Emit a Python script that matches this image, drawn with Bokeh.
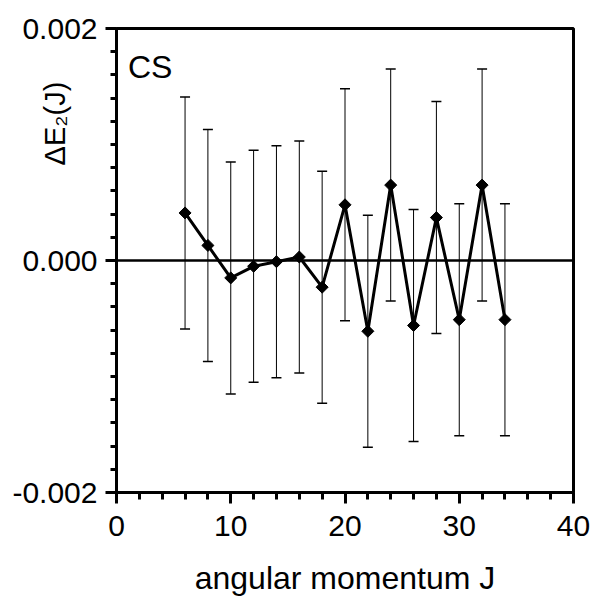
import numpy as np
from bokeh.plotting import figure
from bokeh.models import (ColumnDataSource, Whisker, TeeHead, Span, Label,
                          FixedTicker, NumeralTickFormatter)
from bokeh.embed import file_html
from bokeh.resources import INLINE

# data
J = [6, 8, 10, 12, 14, 16, 18, 20, 22, 24, 26, 28, 30, 32, 34]
dE2 = [0.00041, 0.00013, -0.00015, -0.00005, -0.00001, 0.00003, -0.00023,
       0.00048, -0.00061, 0.00065, -0.00056, 0.00037, -0.00051, 0.00065, -0.00051]
err = [0.00100, 0.00100, 0.00100, 0.00100, 0.00100, 0.00100, 0.00100,
       0.00100, 0.00100, 0.00100, 0.00100, 0.00100, 0.00100, 0.00100, 0.00100]

x_major = [0, 10, 20, 30, 40]
x_minor = [0, 2, 4, 6, 8, 10, 12, 14, 16, 18, 20, 22, 24, 26, 28, 30, 32, 34, 36, 38, 40]
y_major = [-0.002, 0.0, 0.002]
y_minor = [-0.002, -0.0018, -0.0016, -0.0014, -0.0012, -0.001, -0.0008, -0.0006,
           -0.0004, -0.0002, 0.0, 0.0002, 0.0004, 0.0006, 0.0008, 0.001, 0.0012,
           0.0014, 0.0016, 0.0018, 0.002]

FONT = "Liberation Sans"

src = ColumnDataSource(dict(
    J=J, dE2=dE2,
    upper=[v + e for v, e in zip(dE2, err)],
    lower=[v - e for v, e in zip(dE2, err)],
))

p = figure(width=592, height=598, x_range=(0, 40), y_range=(-0.002, 0.002),
           output_backend="svg", toolbar_location=None,
           min_border_left=116, min_border_right=19, min_border_top=28,
           min_border_bottom=106)
p.grid.visible = False
p.outline_line_color = "black"
p.outline_line_width = 3
p.background_fill_color = "white"
p.border_fill_color = "white"

# axes
p.xaxis.ticker = FixedTicker(ticks=x_major, minor_ticks=x_minor)
p.yaxis.ticker = FixedTicker(ticks=y_major, minor_ticks=y_minor)
p.yaxis.formatter = NumeralTickFormatter(format="0.000")
for ax in (p.xaxis[0], p.yaxis[0]):
    ax.axis_line_width = 3
    ax.axis_line_color = "black"
    ax.major_tick_line_width = 3
    ax.minor_tick_line_width = 3
    ax.major_tick_in = 0
    ax.minor_tick_in = 0
    ax.major_tick_out = 11
    ax.major_label_text_font = FONT
    ax.major_label_text_font_size = "30px"
    ax.major_label_text_color = "black"
p.xaxis.minor_tick_out = 7
p.yaxis.minor_tick_out = 6
p.xaxis.major_label_standoff = 12
p.yaxis.major_label_standoff = 8

p.xaxis.axis_label = "angular momentum J"
p.xaxis.axis_label_text_font = FONT
p.xaxis.axis_label_text_font_size = "32px"
p.xaxis.axis_label_text_font_style = "normal"
p.xaxis.axis_label_text_color = "black"
p.xaxis.axis_label_standoff = 21

# y axis label, pulled into the tick-label column, shifted up with leading no-break spaces
NB = "\u00a0"
p.yaxis.axis_label = NB * 34 + "ΔE₂(J)"
p.yaxis.axis_label_align = "center"
p.yaxis.axis_label_standoff = -62
p.yaxis.axis_label_text_font = FONT
p.yaxis.axis_label_text_font_size = "29px"
p.yaxis.axis_label_text_font_style = "normal"
p.yaxis.axis_label_text_color = "black"

# zero line
p.add_layout(Span(location=0, dimension="width", line_color="black", line_width=2.5))

# error bars
wh = Whisker(source=src, base="J", upper="upper", lower="lower",
             line_color="black", line_width=1,
             upper_head=TeeHead(size=10, line_width=1.5, line_color="black"),
             lower_head=TeeHead(size=10, line_width=1.5, line_color="black"))
p.add_layout(wh)

# data line and diamonds
p.line("J", "dE2", source=src, line_color="black", line_width=3)
p.scatter("J", "dE2", source=src, marker="square", angle=np.pi / 4, size=8.5,
          fill_color="black", line_color="black")

# panel label
p.add_layout(Label(x=1.0, y=0.00167, text="CS", text_font=FONT,
                   text_font_size="32px", text_color="black",
                   text_align="left", text_baseline="alphabetic"))

open("out.html", "w").write(file_html(p, INLINE))
